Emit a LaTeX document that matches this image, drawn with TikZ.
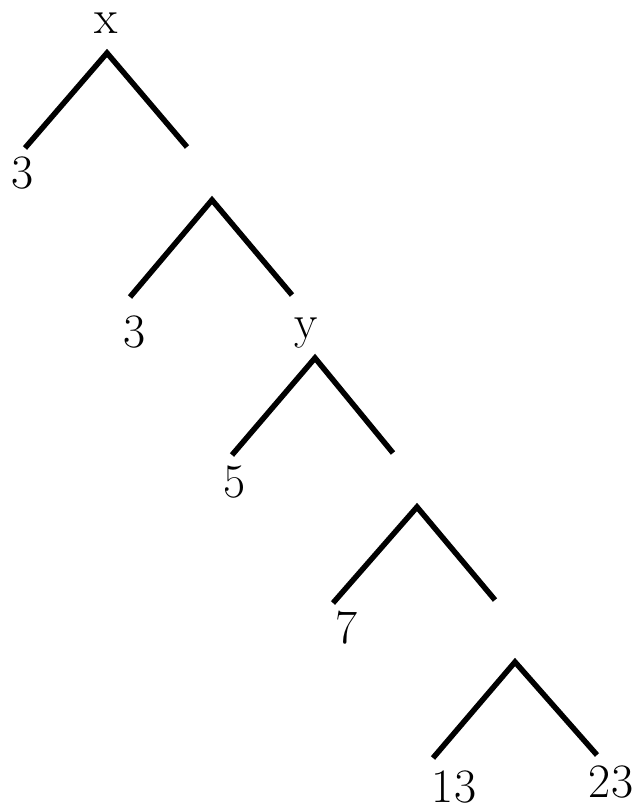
\documentclass[tikz,border=0pt]{standalone}
\usepackage{tikz}
\usetikzlibrary{positioning}

\begin{document}
\begin{tikzpicture}[
  x=1pt, y=-1pt,
  lbl/.style={font=\fontsize{48}{52}\selectfont, inner sep=0pt, anchor=base},
  branch/.style={line width=5.5pt, line join=miter}]
\useasboundingbox (0,0) rectangle (637,803);
% apexes and branch ends
\coordinate (t1) at (107,53);  \coordinate (t1l) at (25,148);  \coordinate (t1r) at (187,147);
\coordinate (t2) at (212,200); \coordinate (t2l) at (130,297); \coordinate (t2r) at (292,295);
\coordinate (t3) at (315,358); \coordinate (t3l) at (232,455); \coordinate (t3r) at (393,453);
\coordinate (t4) at (417,507); \coordinate (t4l) at (333,603); \coordinate (t4r) at (495,600);
\coordinate (t5) at (515,662); \coordinate (t5l) at (433,758); \coordinate (t5r) at (597,755);
\foreach \t in {t1,t2,t3,t4,t5}
  \draw[branch] (\t l) -- (\t) -- (\t r);
% labels
\node[lbl] (vx) at (106,33) {x};
\node[lbl] (la) at (23,188) {3};
\node[lbl] (lb) at (135,347) {3};
\node[lbl] (vy) at (306,338) {y};
\node[lbl] (lc) at (235,497) {5};
\node[lbl] (ld) at (347,643) {7};
\node[lbl] (le) at (454,802) {13};
\node[lbl] (lf) at (611,797) {23};
\end{tikzpicture}
\end{document}
